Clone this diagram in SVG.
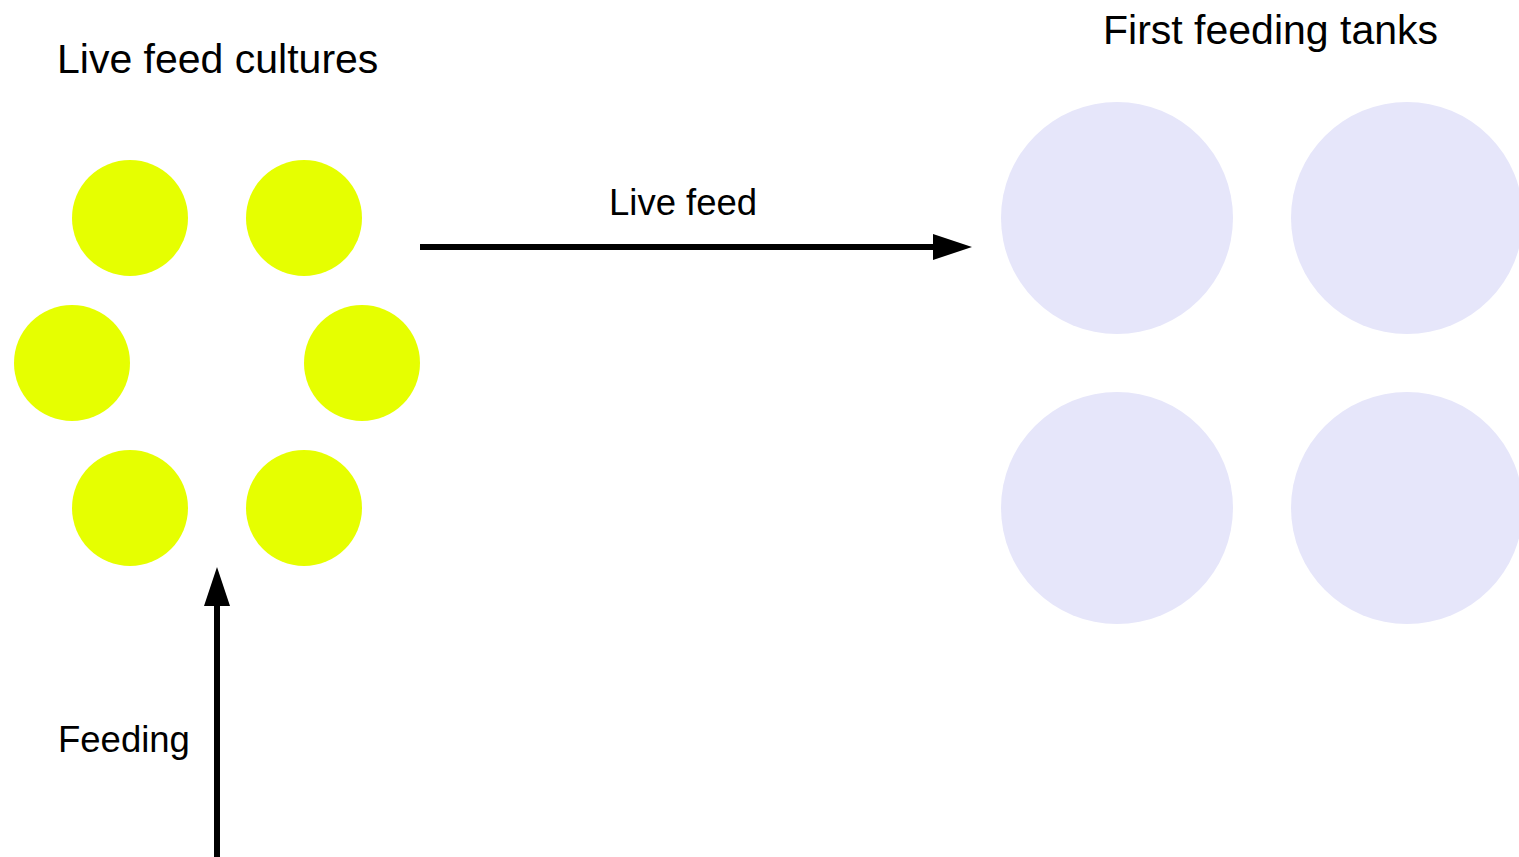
<svg xmlns="http://www.w3.org/2000/svg" width="1519" height="857" viewBox="0 0 1519 857">
<style>
.t{font-family:"Liberation Sans",Arial,sans-serif;fill:#000}
.big{font-size:41px}
.sm{font-size:36.5px}
.y{fill:#E6FF00}
.p{fill:#E6E6FA}
.c{stroke:#000;stroke-width:6;fill:none}
</style>
<defs>
<marker id="ah" markerUnits="userSpaceOnUse" markerWidth="40" markerHeight="28" refX="1" refY="13" orient="auto">
<path d="M0,0 L39,13 L0,26 Z" fill="#000"/>
</marker>
</defs>
<rect width="1519" height="857" fill="#fff"/>
<g id="labels">
<text class="t big" x="57" y="73">Live feed cultures</text>
<text class="t big" x="1103" y="44">First feeding tanks</text>
</g>
<g id="cultures">
<circle id="c1" class="y" cx="130" cy="218" r="58"/>
<circle id="c2" class="y" cx="304" cy="218" r="58"/>
<circle id="c3" class="y" cx="72" cy="363" r="58"/>
<circle id="c4" class="y" cx="362" cy="363" r="58"/>
<circle id="c5" class="y" cx="130" cy="508" r="58"/>
<circle id="c6" class="y" cx="304" cy="508" r="58"/>
</g>
<g id="tanks">
<circle id="t1" class="p" cx="1117" cy="218" r="116"/>
<circle id="t2" class="p" cx="1407" cy="218" r="116"/>
<circle id="t3" class="p" cx="1117" cy="508" r="116"/>
<circle id="t4" class="p" cx="1407" cy="508" r="116"/>
</g>
<g id="connectors">
<line class="c" x1="420" y1="247" x2="934" y2="247" marker-end="url(#ah)"/>
<line class="c" x1="217" y1="857" x2="217" y2="605" marker-end="url(#ah)"/>
<text class="t sm" x="609" y="215">Live feed</text>
<text class="t sm" x="58" y="752">Feeding</text>
</g>
</svg>
